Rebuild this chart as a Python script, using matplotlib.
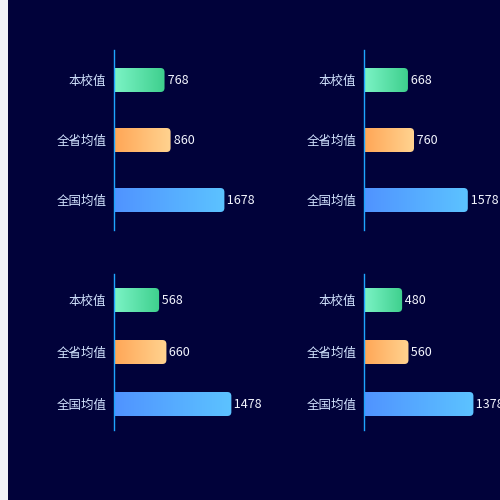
import numpy as np
import matplotlib.pyplot as plt
from matplotlib.path import Path
from matplotlib.patches import PathPatch
from matplotlib.colors import LinearSegmentedColormap
from matplotlib.transforms import IdentityTransform

plt.rcParams['font.family'] = ['Noto Sans CJK SC', 'DejaVu Sans']

categories = ['本校值', '全省均值', '全国均值']
panel_values = [
    [768, 860, 1678],
    [668, 760, 1578],
    [568, 660, 1478],
    [480, 560, 1378],
]
# px per unit differs between the top and bottom rows
panel_xmax = [2280, 2280, 1889, 1889]

bar_colors = [('#7cf4c6', '#3ecf8d'), ('#ffa656', '#ffd390'), ('#5093ff', '#5cc3ff')]
bg = '#01023a'

fig = plt.figure(figsize=(5, 5), dpi=100)
fig.patch.set_facecolor(bg)
# light strip on the left edge
fig.patches.append(plt.Rectangle((0, 0), 8 / 500, 1, transform=fig.transFigure,
                                 facecolor='#f0f2f8', edgecolor='none'))

# axes boxes in pixels: left, top, bottom
boxes = [(114, 50, 230), (364, 50, 230), (114, 274, 430), (364, 274, 430)]
W = 150


def rounded_right(x0, y0, x1, y1, r):
    verts = [(x0, y0), (x1 - r, y0), (x1, y0), (x1, y0 + r),
             (x1, y1 - r), (x1, y1), (x1 - r, y1), (x0, y1), (x0, y0)]
    codes = [Path.MOVETO, Path.LINETO, Path.CURVE3, Path.CURVE3,
             Path.LINETO, Path.CURVE3, Path.CURVE3, Path.LINETO, Path.CLOSEPOLY]
    return Path(verts, codes)


grad = np.linspace(0, 1, 256).reshape(1, -1)

for (left, top, bottom), vals, xmax in zip(boxes, panel_values, panel_xmax):
    ax = fig.add_axes([left / 500, 1 - bottom / 500, W / 500, (bottom - top) / 500])
    ax.set_facecolor('none')
    ax.set_xlim(0, xmax)
    ax.set_ylim(2.5, -0.5)
    band_px = (bottom - top) / 3
    h = 24 / band_px
    bars = ax.barh(range(3), vals, height=h, color='none')
    ax.set_yticks(range(3))
    ax.set_yticklabels(categories, color='#d3e4ff', fontsize=9)
    ax.tick_params(axis='y', length=0, pad=5.5)
    ax.set_xticks([])
    for s in ['top', 'right', 'bottom']:
        ax.spines[s].set_visible(False)
    ax.spines['left'].set_color('#1ea6ff')
    ax.spines['left'].set_linewidth(1)
    ax.spines['left'].set_zorder(5)

    for rect, (c0, c1), v in zip(bars, bar_colors, vals):
        x, y, w, hh = rect.get_x(), rect.get_y(), rect.get_width(), rect.get_height()
        (px0, py0), (px1, py1) = ax.transData.transform([(x, y), (x + w, y + hh)])
        ylo, yhi = min(py0, py1), max(py0, py1)
        cmap = LinearSegmentedColormap.from_list('g', [c0, c1])
        im = ax.imshow(grad, cmap=cmap, aspect='auto', extent=(x, x + w, y + hh, y),
                       interpolation='bicubic', zorder=2)
        clip = PathPatch(rounded_right(px0, ylo, px1, yhi, 4), transform=IdentityTransform(),
                         facecolor='none', edgecolor='none')
        im.set_clip_path(clip)
        ax.text(x + w, y + hh / 2, ' ' + str(v), color='#f4f6ff', fontsize=9,
                va='center', ha='left', zorder=4, clip_on=False)
    ax.set_xlim(0, xmax)
    ax.set_ylim(2.5, -0.5)

fig.savefig('out.png', dpi=100, facecolor=bg)
